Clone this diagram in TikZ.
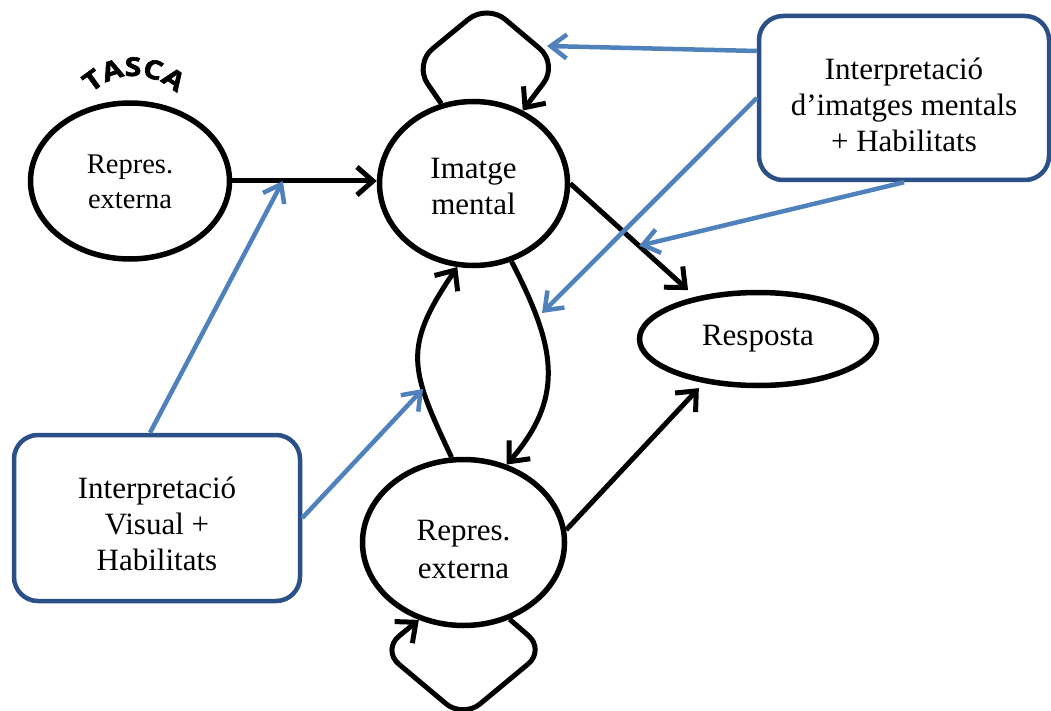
\documentclass[tikz,border=0pt]{standalone}
\usepackage{fontspec}
\setmainfont{Liberation Serif}
\newfontfamily\tascafont{Open Sans}[FakeStretch=1.15, FakeBold=2.5]
\usetikzlibrary{shapes.geometric,arrows.meta,decorations.text,calc}
\definecolor{boxline}{RGB}{42,80,135}
\definecolor{linkblue}{RGB}{79,129,189}
% centred lines, drawn a little below the centre of their box
\newcommand\lowtext[2]{\raisebox{-#1}[\height][\depth]{\begin{tabular}{@{}c@{}}#2\end{tabular}}}
\begin{document}
\begin{tikzpicture}[x=1pt,y=-1pt,
  stateell/.style={ellipse, draw, line width=5.5pt, inner sep=0pt},
  infobox/.style={rectangle, rounded corners=24pt, draw=boxline, line width=4.5pt,
                  fill=white, inner sep=0pt},
  flow/.style={line width=5pt, -{Straight Barb[length=16pt,width=28pt]}},
  cue/.style={line width=4.5pt, draw=linkblue, -{Straight Barb[length=16pt,width=24pt]}},
  mainfs/.style={font=\fontsize{31}{36}\selectfont}]
\useasboundingbox (0,0) rectangle (1051,711);

% states
\node[stateell, minimum width=199pt, minimum height=156pt,
      font=\fontsize{28.5}{35}\selectfont] (task) at (130,181) {\lowtext{3pt}{Repres.\\externa}};
\node[stateell, minimum width=188pt, minimum height=164pt, mainfs] (img) at (473.5,183.5) {\lowtext{6pt}{Imatge\\mental}};
\node[stateell, minimum width=202pt, minimum height=166pt,
      font=\fontsize{31}{38}\selectfont] (ext) at (463.5,542.5) {\lowtext{9pt}{Repres.\\externa}};
\node[stateell, minimum width=237pt, minimum height=93pt, mainfs] (resp) at (758,339) {Resposta};

% interpretation boxes
\node[infobox, minimum width=290pt, minimum height=164pt, mainfs] (mbox) at (904,98)
  {\lowtext{10pt}{Interpretació\\d’imatges mentals\\+ Habilitats}};
\node[infobox, minimum width=286pt, minimum height=166pt, mainfs] (vbox) at (157,518)
  {\lowtext{9pt}{Interpretació\\Visual +\\Habilitats}};

% label over the task state, bent along an arc
\path[decorate, decoration={text along path, text align=center,
      text={|\tascafont\bfseries\fontsize{26}{26}\selectfont|TASCA}}]
  (134,137) ++(195:61) arc[start angle=195, end angle=345, radius=61];

% black transitions
\draw[flow] (task.east) -- (task.east -| img.west);
\draw[flow, rounded corners=24pt] (img.112) -- (414,64) -- (487,4) -- (558,64) -- (img.56);
\draw[flow, shorten >=10pt] (img.0) -- (resp.146);
\draw[flow] (img.296) .. controls (554,344) and (567,395) .. (ext.61);
\draw[flow] (ext.98) .. controls (410,369) and (402,348) .. (img.259);
\draw[flow, rounded corners=22pt] (ext.301) -- (545,650) -- (463,718) -- (382,650) -- (ext.240);
\draw[flow, shorten >=7pt] (ext.7) -- (resp.219);

% points where the interpretation arrows land
\coordinate (hitLoop) at (547,46);
\coordinate (hitDown) at (542,313);
\coordinate (hitResp) at ($(img.0)!0.55!(resp.146)$);
\coordinate (hitTask) at ($(task.east)!0.35!(task.east -| img.west)$);
\coordinate (hitUp) at (423,389);

% blue influences
\draw[cue] ([yshift=47pt]mbox.west) -- (hitLoop);
\draw[cue] (mbox.west) -- (hitDown);
\draw[cue] (mbox.south) -- (hitResp);
\draw[cue] ([xshift=-7pt]vbox.north) -- (hitTask);
\draw[cue] (vbox.east) -- (hitUp);
\end{tikzpicture}
\end{document}
